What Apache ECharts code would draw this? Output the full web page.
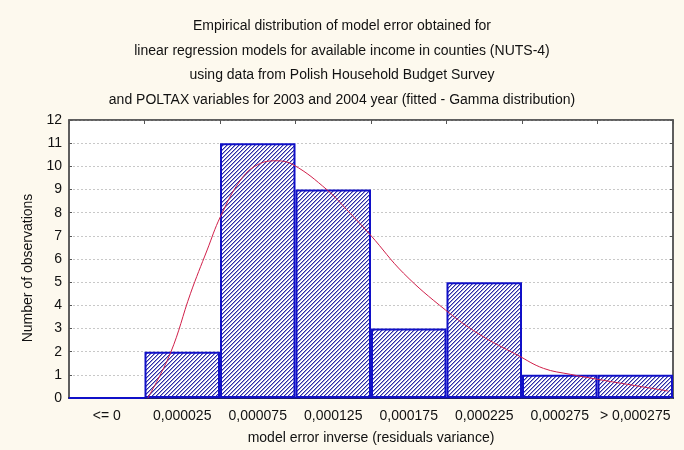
<!DOCTYPE html>
<html>
<head>
<meta charset="utf-8">
<script src="https://cdn.jsdelivr.net/npm/echarts@6/dist/echarts.min.js"></script>
<style>
  html, body { margin: 0; padding: 0; background: #fdf9ee; }
  #chart { width: 684px; height: 450px; }
</style>
</head>
<body>
<div id="chart"></div>
<script>
// Histogram bins of the model error inverse (residuals variance)
const categories = ['<= 0', '0,000025', '0,000075', '0,000125', '0,000175', '0,000225', '0,000275', '> 0,000275'];
const counts = [0, 2, 11, 9, 3, 5, 1, 1];

// Fitted Gamma density, scaled to counts: x = model error inverse, y = expected observations
const fitX = [0.0000022, 0.0000172, 0.0000305, 0.0000415, 0.0000503, 0.0000636, 0.0000746, 0.0000868,
              0.0000987, 0.000121, 0.0001342, 0.0001497, 0.0001715, 0.0001993, 0.0002225, 0.0002468,
              0.0002642, 0.0002821, 0.0002998, 0.0003263, 0.000347];
const fitY = [0.0, 1.94, 4.52, 6.39, 7.83, 9.41, 10.06, 10.24,
              10.06, 8.98, 8.11, 7.03, 5.39, 3.80, 2.72, 1.86,
              1.28, 1.02, 0.81, 0.52, 0.30];

const yTicks = [0, 1, 2, 3, 4, 5, 6, 7, 8, 9, 10, 11, 12];

const titleLines = [
  'Empirical distribution of model error obtained for',
  'linear regression models for available income in counties (NUTS-4)',
  'using data from Polish Household Budget Survey',
  'and POLTAX variables for 2003 and 2004 year (fitted - Gamma distribution)'
];

// diagonal hatch fill for the bars: a thin blue stroke with a soft edge on white
function hatch() {
  const c = document.createElement('canvas');
  c.width = 4; c.height = 4;
  const g = c.getContext('2d');
  g.fillStyle = '#ffffff';
  g.fillRect(0, 0, 4, 4);
  for (let i = 0; i < 4; i++) {
    g.fillStyle = '#2a2aa6';
    g.fillRect(i, 3 - i, 1, 1);
    g.fillStyle = '#9c9cd6';
    g.fillRect((i + 1) % 4, 3 - i, 1, 1);
  }
  return c;
}

const font = '"Liberation Sans", Arial, sans-serif';
const chart = echarts.init(document.getElementById('chart'), null, { renderer: 'canvas' });

chart.setOption({
  backgroundColor: '#fdf9ee',
  animation: false,
  title: {
    text: titleLines.join('\n'),
    left: 'center',
    top: 9,
    textStyle: { fontFamily: font, fontSize: 14, fontWeight: 'normal', color: '#111', lineHeight: 24.5 }
  },
  grid: {
    left: 69, right: 11, top: 120, bottom: 52,
    outerBoundsMode: 'none', containLabel: false,
    show: true, backgroundColor: '#ffffff', borderColor: '#555', borderWidth: 1.5
  },
  xAxis: [
    {
      type: 'category', data: categories, position: 'bottom', boundaryGap: true,
      axisLine: { show: true, onZero: false, lineStyle: { color: '#1a1a70', width: 2 } },
      axisTick: { show: false },
      axisLabel: { fontFamily: font, fontSize: 14, color: '#111', margin: 11, interval: 0 },
      name: 'model error inverse (residuals variance)',
      nameLocation: 'middle', nameGap: 33,
      nameTextStyle: { fontFamily: font, fontSize: 14, color: '#111' }
    },
    {
      type: 'category', data: categories, position: 'top', boundaryGap: true,
      axisLine: { show: true, onZero: false, lineStyle: { color: '#555', width: 1.5 } },
      axisTick: { show: true, inside: true, length: 4, interval: 0, lineStyle: { color: '#555' } },
      axisLabel: { show: false }
    },
    {
      type: 'value', min: -0.00005, max: 0.00035, show: false
    }
  ],
  yAxis: [
    {
      type: 'value', min: 0, max: 12, interval: 1, position: 'left',
      axisLine: { show: true, onZero: false, lineStyle: { color: '#555', width: 1.5 } },
      axisTick: { show: true, inside: true, length: 3, lineStyle: { color: '#555' } },
      axisLabel: { fontFamily: font, fontSize: 14, color: '#111', margin: 7,
                   formatter: v => yTicks.includes(v) ? String(v) : '' },
      splitLine: { show: true, lineStyle: { color: '#c8c8c8', type: [2, 2], width: 1 } },
      name: 'Number of observations', nameLocation: 'middle', nameGap: 33, nameRotate: 90,
      nameTextStyle: { fontFamily: font, fontSize: 14, color: '#111', padding: [0, 18, 0, 0] }
    },
    {
      type: 'value', min: 0, max: 12, interval: 1, position: 'right',
      axisLine: { show: true, onZero: false, lineStyle: { color: '#555', width: 1.5 } },
      axisTick: { show: true, inside: true, length: 3, lineStyle: { color: '#555' } },
      axisLabel: { show: false }, splitLine: { show: false }
    }
  ],
  series: [
    {
      type: 'bar', xAxisIndex: 0, yAxisIndex: 0, data: counts,
      barCategoryGap: 0,
      itemStyle: { color: { image: hatch(), repeat: 'repeat' }, borderColor: '#1010c8', borderWidth: 2 }
    },
    {
      type: 'line', xAxisIndex: 2, yAxisIndex: 0,
      data: fitX.map((x, i) => [x, fitY[i]]),
      smooth: 0.4, showSymbol: false,
      lineStyle: { color: '#d0204a', width: 1 }, z: 5
    }
  ]
});
</script>
</body>
</html>
